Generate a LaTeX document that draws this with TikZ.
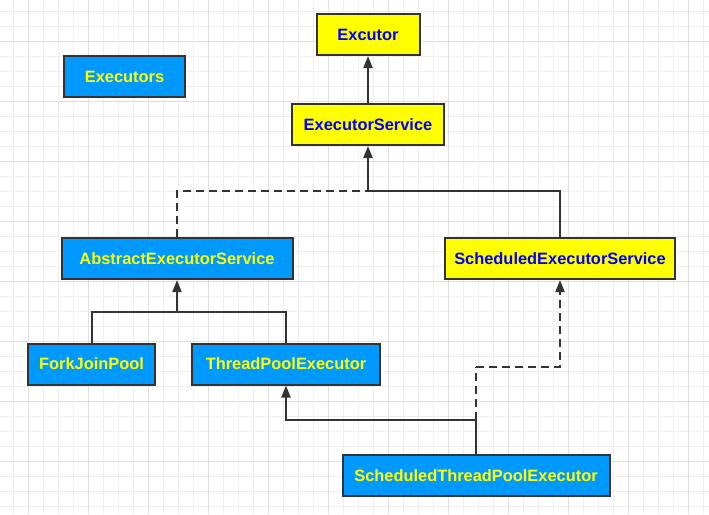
\documentclass[tikz,border=0pt]{standalone}
\usepackage{fontspec}
\setmainfont{Liberation Sans}
\usepackage{tikz}
\usetikzlibrary{arrows.meta}

\definecolor{boxblue}{RGB}{0,153,255}
\definecolor{boxyellow}{RGB}{255,255,0}
\definecolor{txtblue}{RGB}{0,0,255}
\definecolor{linegray}{RGB}{51,51,51}
\definecolor{gridlight}{RGB}{238,238,238}
\definecolor{griddark}{RGB}{224,224,224}

\tikzset{
    cls/.style={draw=linegray, line width=2pt, minimum height=41pt, inner sep=0pt,
        font=\fontsize{16.4}{19}\selectfont\bfseries},
    iface/.style={cls, fill=boxyellow, text=txtblue},
    impl/.style={cls, fill=boxblue, text=boxyellow},
    link/.style={draw=linegray, line width=2pt},
    dlink/.style={link, dash pattern=on 8pt off 5pt},
    tip/.style={-{Triangle[length=12pt,width=9pt]}}
}

\begin{document}
\begin{tikzpicture}[x=1pt, y=-1pt]
    \useasboundingbox (0,0) rectangle (709,514);

    % Draw grid
    \foreach \x in {13.3,28.3,...,709}
        \draw[gridlight, line width=1pt] (\x,0) -- (\x,514);
    \foreach \y in {11,26,...,514}
        \draw[gridlight, line width=1pt] (0,\y) -- (709,\y);
    \foreach \x in {28.3,88.3,...,709}
        \draw[griddark, line width=1pt] (\x,0) -- (\x,514);
    \foreach \y in {41,101,...,514}
        \draw[griddark, line width=1pt] (0,\y) -- (709,\y);

    % Draw classes
    \node[iface, minimum width=103pt] (excutor) at (368,34.5) {Excutor};
    \node[iface, minimum width=152pt] (es) at (368,124.5) {ExecutorService};
    \node[impl, minimum width=121pt] (executors) at (124.5,76.5) {Executors};
    \node[impl, minimum width=231pt] (aes) at (177,258.5) {AbstractExecutorService};
    \node[iface, minimum width=230pt] (ses) at (560,258.5) {ScheduledExecutorService};
    \node[impl, minimum width=127pt] (fjp) at (91.5,364) {ForkJoinPool};
    \node[impl, minimum width=188pt] (tpe) at (286,364) {ThreadPoolExecutor};
    \node[impl, minimum width=267pt] (stpe) at (476,475.5) {ScheduledThreadPoolExecutor};

    % Junction points
    \coordinate (j1) at (368,191);
    \coordinate (j2) at (177,312);
    \coordinate (j3) at (476,420);
    \coordinate (j4) at (476,367);

    % Draw connectors
    \draw[link, tip] (es) -- (excutor);
    \draw[dlink] (aes.north) |- (j1);
    \draw[link] (ses.north) |- (j1);
    \draw[link, tip] (j1) -- (es.south);
    \draw[link] (fjp.north) |- (j2);
    \draw[link] (tpe.north) |- (j2);
    \draw[link, tip] (j2) -- (aes.south);
    \draw[link] (stpe.north) -- (j3);
    \draw[link, tip] (j3) -| (tpe.south);
    \draw[dlink] (j3) -- (j4);
    \draw[dlink, tip] (j4) -| (ses.south);
\end{tikzpicture}
\end{document}
